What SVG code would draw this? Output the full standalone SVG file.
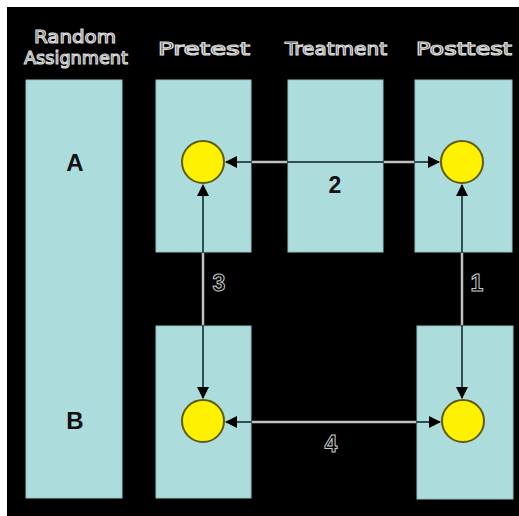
<svg xmlns="http://www.w3.org/2000/svg" width="519" height="516" viewBox="0 0 519 516">
<defs>
<style>
.box{fill:#acdcdc;stroke:#8fc4c4;stroke-width:1}
.dot{fill:#fff200;stroke:#5e5a10;stroke-width:2}
.hdr{font-family:"DejaVu Sans",sans-serif;font-size:18px;fill:#000;stroke:#d8d8d8;stroke-width:1.2;text-anchor:middle}
.lbl{font-family:"Liberation Sans",Arial,sans-serif;font-weight:bold;font-size:24px;fill:#111;text-anchor:middle}
.two{font-family:"Liberation Sans",Arial,sans-serif;font-weight:bold;font-size:23px;fill:#111;text-anchor:middle}
.num{font-family:"Liberation Sans",Arial,sans-serif;font-weight:bold;font-size:23px;fill:#000;stroke:#c8c8c8;stroke-width:1;text-anchor:middle}
.ln{stroke:#2f4f50;stroke-width:2;fill:none}
.lt{stroke:#c0c0c0;stroke-width:2.5;fill:none}
</style>
<marker id="ah" viewBox="0 0 12 12" refX="11" refY="6" markerWidth="12" markerHeight="12" markerUnits="userSpaceOnUse" orient="auto-start-reverse">
<path d="M0,0 L12,6 L0,12 Z" fill="#000"/>
</marker>
</defs>
<rect x="0" y="0" width="519" height="516" fill="#fff"/>
<rect x="7" y="7" width="512" height="509" fill="#000"/>
<g id="headers">
<text class="hdr" x="75" y="43" textLength="82" lengthAdjust="spacingAndGlyphs">Random</text>
<text class="hdr" x="76" y="64" textLength="104" lengthAdjust="spacingAndGlyphs">Assignment</text>
<text class="hdr" x="204" y="55" textLength="92" lengthAdjust="spacingAndGlyphs">Pretest</text>
<text class="hdr" x="336" y="55" textLength="102" lengthAdjust="spacingAndGlyphs">Treatment</text>
<text class="hdr" x="464" y="55" textLength="96" lengthAdjust="spacingAndGlyphs">Posttest</text>
</g>
<g id="random-assignment">
<rect class="box" x="26" y="80" width="96" height="418"/>
<text class="lbl" x="75" y="171">A</text>
<text class="lbl" x="75" y="429">B</text>
</g>
<g id="pretest-a"><rect class="box" x="156" y="80" width="95" height="172"/><circle class="dot" cx="203" cy="162" r="21"/></g>
<g id="treatment-a"><rect class="box" x="288" y="80" width="95" height="172"/></g>
<g id="posttest-a"><rect class="box" x="415" y="80" width="97" height="172"/><circle class="dot" cx="462" cy="162" r="21"/></g>
<g id="pretest-b"><rect class="box" x="156" y="326" width="95" height="172"/><circle class="dot" cx="203" cy="421" r="21"/></g>
<g id="posttest-b"><rect class="box" x="417" y="326" width="96" height="173"/><circle class="dot" cx="463" cy="421" r="21"/></g>
<g id="connectors">
<line class="ln" x1="226" y1="162" x2="439" y2="162" marker-start="url(#ah)" marker-end="url(#ah)"/>
<line class="lt" x1="252" y1="162" x2="287" y2="162"/>
<line class="lt" x1="384" y1="162" x2="414" y2="162"/>
<line class="ln" x1="203" y1="185" x2="203" y2="398" marker-start="url(#ah)" marker-end="url(#ah)"/>
<line class="lt" x1="203" y1="253" x2="203" y2="325"/>
<line class="ln" x1="462" y1="185" x2="462" y2="398" marker-start="url(#ah)" marker-end="url(#ah)"/>
<line class="lt" x1="462" y1="253" x2="462" y2="325"/>
<line class="ln" x1="226" y1="422" x2="440" y2="422" marker-start="url(#ah)" marker-end="url(#ah)"/>
<line class="lt" x1="252" y1="422" x2="416" y2="422"/>
<text class="two" x="335" y="193">2</text>
<text class="num" x="219" y="291">3</text>
<text class="num" x="477" y="291">1</text>
<text class="num" x="331" y="452">4</text>
</g>
</svg>
